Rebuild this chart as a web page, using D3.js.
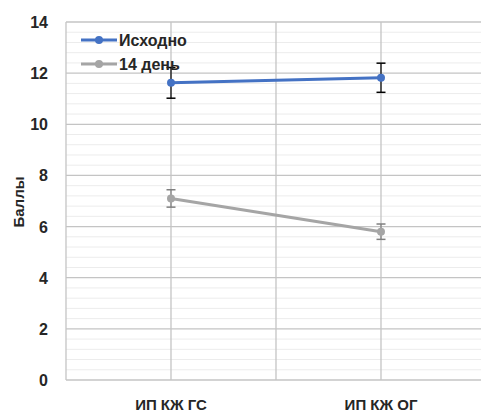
<!DOCTYPE html>
<html lang="ru">
<head>
  <meta charset="UTF-8">
  <title>Баллы</title>
  <script src="https://d3js.org/d3.v7.min.js"></script>
  <style>
    body { margin: 0; background: #fff; }
    text { font-family: "Liberation Sans", Arial, sans-serif; fill: #262626; }
  </style>
</head>
<body>
  <svg id="svg" width="481" height="412"></svg>
  <script>
    var categories = ['ИП КЖ ГС', 'ИП КЖ ОГ']
    var seriesNames = ['Исходно', '14 день']
    var valuesStart = [11.62, 11.82]
    var errorsStart = [0.6, 0.57]
    var valuesDay14 = [7.1, 5.8]
    var errorsDay14 = [0.34, 0.3]
    var yTicks = [0, 2, 4, 6, 8, 10, 12, 14]

    var series = [
      { name: seriesNames[0], values: valuesStart, errors: errorsStart, color: '#4472c4', err: '#000' },
      { name: seriesNames[1], values: valuesDay14, errors: errorsDay14, color: '#a5a5a5', err: '#7f7f7f' }
    ]

    // window.top занят браузером, поэтому другие имена
    var plotL = 66, plotR = 486, plotT = 22, plotB = 380

    var x = d3.scaleBand()
      .domain(categories)
      .range([plotL, plotR])

    var y = d3.scaleLinear()
      .domain([0, 14])
      .range([plotB, plotT])

    var svg = d3.select('#svg')

    // минорная сетка
    var minor = d3.range(0, 14.001, 0.4).filter(v => Math.abs(v / 2 - Math.round(v / 2)) > 0.01)
    svg.append('g').selectAll('line')
      .data(minor)
      .enter()
      .append('line')
      .attr('x1', plotL).attr('x2', plotR)
      .attr('y1', d => y(d)).attr('y2', d => y(d))
      .style('stroke', '#ececec').style('stroke-width', 1)

    // основная сетка
    svg.append('g').selectAll('line')
      .data(yTicks)
      .enter()
      .append('line')
      .attr('x1', plotL).attr('x2', plotR)
      .attr('y1', d => y(d)).attr('y2', d => y(d))
      .style('stroke', '#c4c4c4').style('stroke-width', 1.3)

    var vlines = [plotL]
    categories.forEach(c => { vlines.push(x(c) + x.bandwidth() / 2); vlines.push(x(c) + x.bandwidth()) })
    svg.append('g').selectAll('line')
      .data(vlines)
      .enter()
      .append('line')
      .attr('x1', d => d).attr('x2', d => d)
      .attr('y1', plotT).attr('y2', plotB)
      .style('stroke', '#c4c4c4').style('stroke-width', 1.3)

    // подписи оси Y
    svg.append('g').selectAll('text')
      .data(yTicks)
      .enter()
      .append('text')
      .attr('x', 48)
      .attr('y', d => y(d) + 6)
      .attr('text-anchor', 'end')
      .style('font-size', '16px').style('font-weight', 'bold')
      .text(d => d)

    svg.append('text')
      .attr('transform', 'translate(24,202) rotate(-90)')
      .attr('text-anchor', 'middle')
      .style('font-size', '15px').style('font-weight', 'bold')
      .text('Баллы')

    // подписи категорий
    svg.append('g').selectAll('text')
      .data(categories)
      .enter()
      .append('text')
      .attr('x', d => x(d) + x.bandwidth() / 2)
      .attr('y', 410)
      .attr('text-anchor', 'middle')
      .style('font-size', '15px').style('font-weight', 'bold')
      .text(d => d)

    var cx = (d, i) => x(categories[i]) + x.bandwidth() / 2
    var line = d3.line().x(cx).y(d => y(d))

    series.forEach(s => {
      var g = svg.append('g')
      g.append('path')
        .attr('d', line(s.values))
        .style('fill', 'none').style('stroke', s.color).style('stroke-width', 3)
      // планки погрешностей
      s.values.forEach((v, i) => {
        var px = cx(v, i)
        g.append('line')
          .attr('x1', px).attr('x2', px)
          .attr('y1', y(v + s.errors[i])).attr('y2', y(v - s.errors[i]))
          .style('stroke', s.err).style('stroke-width', 1.2)
        ;[v + s.errors[i], v - s.errors[i]].forEach(e => {
          g.append('line')
            .attr('x1', px - 4.5).attr('x2', px + 4.5)
            .attr('y1', y(e)).attr('y2', y(e))
            .style('stroke', s.err).style('stroke-width', 1.5)
        })
      })
      g.selectAll('circle')
        .data(s.values)
        .enter()
        .append('circle')
        .attr('cx', cx)
        .attr('cy', d => y(d))
        .attr('r', 4)
        .style('fill', s.color)
    })

    // легенда
    var legend = svg.append('g')
    series.forEach((s, i) => {
      var ly = 40 + i * 24
      legend.append('line')
        .attr('x1', 81).attr('x2', 117)
        .attr('y1', ly).attr('y2', ly)
        .style('stroke', s.color).style('stroke-width', 3)
      legend.append('circle')
        .attr('cx', 99).attr('cy', ly).attr('r', 4)
        .style('fill', s.color)
      legend.append('text')
        .attr('x', 119).attr('y', ly + 6)
        .style('font-size', '16px').style('font-weight', 'bold')
        .text(s.name)
    })
  </script>
</body>
</html>
